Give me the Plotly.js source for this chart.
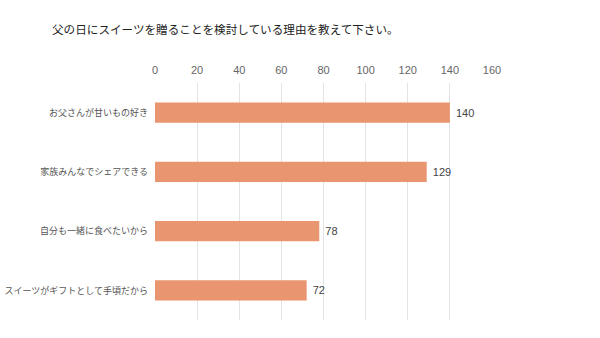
<!DOCTYPE html>
<html><head><meta charset="utf-8">
<script src="https://cdn.plot.ly/plotly-3.0.1.min.js"></script>
<style>html,body{margin:0;padding:0;background:#fff}#chart{width:600px;height:338px}</style>
</head><body><div id="chart"></div>
<script>
const categories = ["お父さんが甘いもの好き","家族みんなでシェアできる","自分も一緒に食べたいから","スイーツがギフトとして手頃だから"];
const values = [140,129,78,72];
const tickVals = [0,20,40,60,80,100,120,140,160];
const titleText = "父の日にスイーツを贈ることを検討している理由を教えて下さい。";

const jp = "'Noto Sans CJK JP', 'Noto Sans', sans-serif";
const num = "'Liberation Sans', Arial, sans-serif";
Plotly.newPlot('chart', [{
  type:'bar', orientation:'h',
  x: values, y: categories,
  width: 0.34,
  marker:{color:'#E9956F'},
  text: values.map(v => ' ' + v), textposition:'outside', cliponaxis:false,
  textfont:{family:num, size:11, color:'#444'},
  hoverinfo:'none'
}], {
  width:600, height:338,
  margin:{l:155, r:108, t:83, b:18},
  paper_bgcolor:'#fff', plot_bgcolor:'#fff',
  title:{text:titleText, font:{family:jp, size:11.6, color:'#222'}, xref:'container', x:52/600, xanchor:'left', yref:'container', y:1-30/338, yanchor:'middle'},
  xaxis:{side:'top', range:[0,160], tickvals:tickVals, showgrid:true, gridcolor:'#e3e3e3', zeroline:false, showline:false, ticks:'', ticklabelstandoff:6, tickfont:{family:num, size:11, color:'#666'}, fixedrange:true},
  yaxis:{autorange:'reversed', showgrid:false, zeroline:false, showline:false, ticks:'', ticklen:0, ticklabelstandoff:6, tickfont:{family:jp, size:9, color:'#555'}, fixedrange:true},
  showlegend:false
}, {displayModeBar:false, staticPlot:true});
</script></body></html>
